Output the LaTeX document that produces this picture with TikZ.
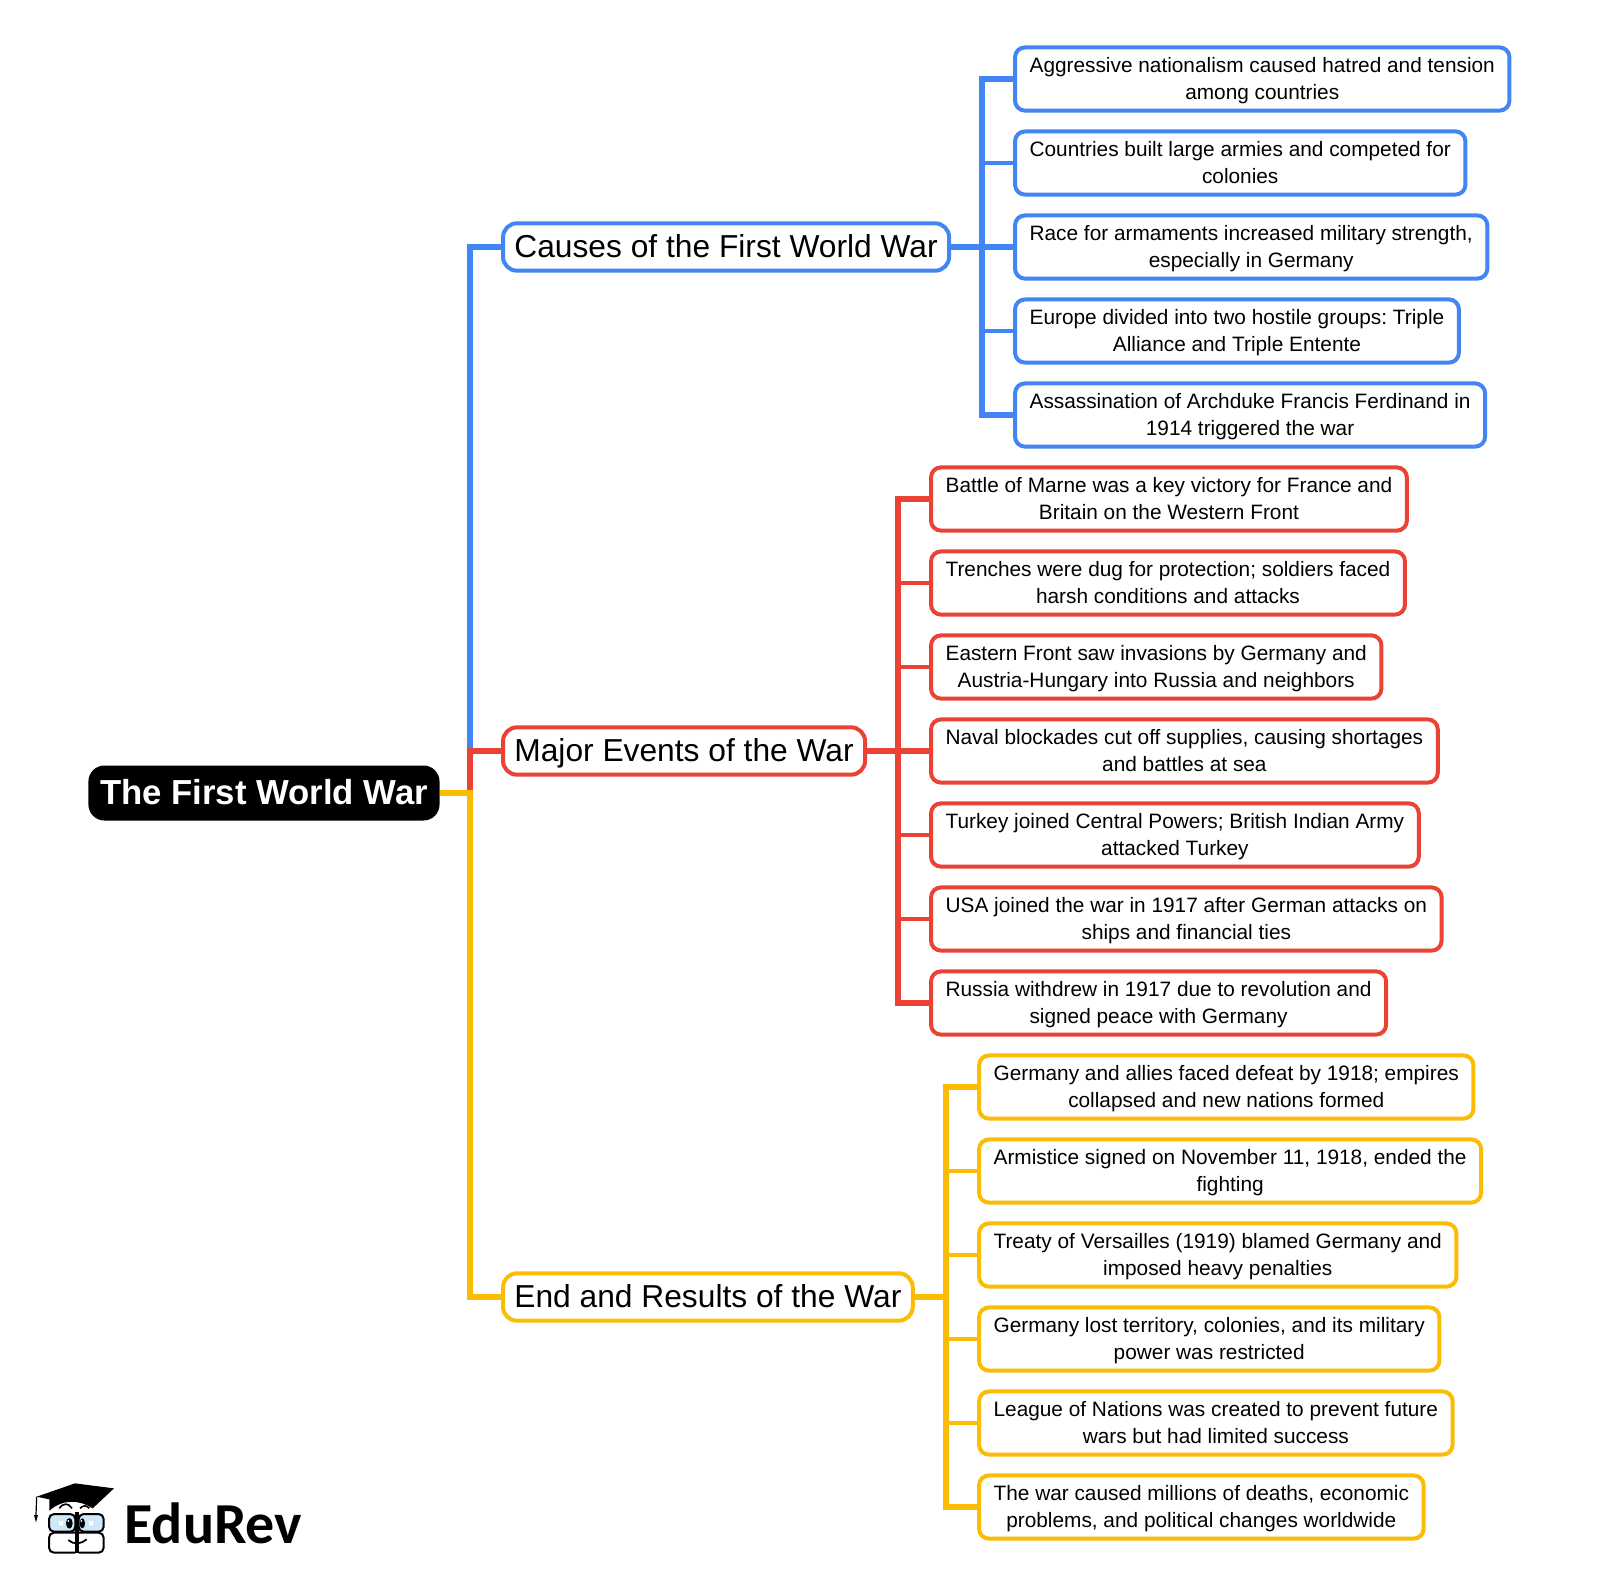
\documentclass[tikz,border=0pt]{standalone}
\usepackage{fontspec}
\setmainfont{Liberation Sans}
\newfontfamily\logofont{Carlito}
\usepackage{tikz}
\usetikzlibrary{positioning, calc}

\definecolor{blueline}{HTML}{4285F4}
\definecolor{redline}{HTML}{EA4335}
\definecolor{yellowline}{HTML}{FBBC04}
\definecolor{lensblue}{HTML}{CFE8F7}

\newcommand{\leafstrut}{\rule{0pt}{9.8pt}\rule[-3pt]{0pt}{3pt}}
\newcommand{\leaflines}[2]{\leafstrut #1\\\leafstrut #2}

\tikzset{
    rootbox/.style={fill=black, text=white, rounded corners=8pt, font=\fontsize{17.36}{20}\selectfont\bfseries,
        inner xsep=5.8pt, minimum height=27.5pt, text height=12.5pt, text depth=1.5pt, anchor=west},
    branchbox/.style={draw=#1, fill=white, line width=2pt, rounded corners=7pt, font=\fontsize{15.87}{20}\selectfont,
        inner xsep=5.7pt, minimum height=23.7pt, text height=11.2pt, text depth=1.1pt, anchor=west},
    leafbox/.style={draw=#1, fill=white, line width=2pt, rounded corners=5pt, align=center, inner ysep=0pt,
        font=\fontsize{10.41}{13.6}\selectfont, inner xsep=7.3pt, minimum height=31.6pt, anchor=west},
    busline/.style={draw=#1, line width=2.6pt},
    stubline/.style={draw=#1, line width=2pt}
}

\begin{document}
\frenchspacing
\begin{tikzpicture}[x=0.5pt, y=-0.5pt]
    \useasboundingbox (0,-1) rectangle (1600,1585);

    % centre
    \node[rootbox] (root) at (88,792) {The First World War};
    \coordinate (trunk) at (470,792);

    % branches
    \node[branchbox=blueline] (causes) at (501,246) {Causes of the First World War};
    \node[branchbox=redline] (events) at (501,750) {Major Events of the War};
    \node[branchbox=yellowline] (results) at (501,1296) {End and Results of the War};

    % causes
    \node[leafbox=blueline] (causeA) at (1013,78) {\leaflines{Aggressive nationalism caused hatred and tension}{among countries}};
    \node[leafbox=blueline] (causeB) at (1013,162) {\leaflines{Countries built large armies and competed for}{colonies}};
    \node[leafbox=blueline] (causeC) at (1013,246) {\leaflines{Race for armaments increased military strength,}{especially in Germany}};
    \node[leafbox=blueline] (causeD) at (1013,330) {\leaflines{Europe divided into two hostile groups: Triple}{Alliance and Triple Entente}};
    \node[leafbox=blueline] (causeE) at (1013,414) {\leaflines{Assassination of Archduke Francis Ferdinand in}{1914 triggered the war}};

    % events
    \node[leafbox=redline] (eventA) at (929,498) {\leaflines{Battle of Marne was a key victory for France and}{Britain on the Western Front}};
    \node[leafbox=redline] (eventB) at (929,582) {\leaflines{Trenches were dug for protection; soldiers faced}{harsh conditions and attacks}};
    \node[leafbox=redline] (eventC) at (929,666) {\leaflines{Eastern Front saw invasions by Germany and}{Austria-Hungary into Russia and neighbors}};
    \node[leafbox=redline] (eventD) at (929,750) {\leaflines{Naval blockades cut off supplies, causing shortages}{and battles at sea}};
    \node[leafbox=redline] (eventE) at (929,834) {\leaflines{Turkey joined Central Powers; British Indian Army}{attacked Turkey}};
    \node[leafbox=redline] (eventF) at (929,918) {\leaflines{USA joined the war in 1917 after German attacks on}{ships and financial ties}};
    \node[leafbox=redline] (eventG) at (929,1002) {\leaflines{Russia withdrew in 1917 due to revolution and}{signed peace with Germany}};

    % results
    \node[leafbox=yellowline] (resultA) at (977,1086) {\leaflines{Germany and allies faced defeat by 1918; empires}{collapsed and new nations formed}};
    \node[leafbox=yellowline] (resultB) at (977,1170) {\leaflines{Armistice signed on November 11, 1918, ended the}{fighting}};
    \node[leafbox=yellowline] (resultC) at (977,1254) {\leaflines{Treaty of Versailles (1919) blamed Germany and}{imposed heavy penalties}};
    \node[leafbox=yellowline] (resultD) at (977,1338) {\leaflines{Germany lost territory, colonies, and its military}{power was restricted}};
    \node[leafbox=yellowline] (resultE) at (977,1422) {\leaflines{League of Nations was created to prevent future}{wars but had limited success}};
    \node[leafbox=yellowline] (resultF) at (977,1506) {\leaflines{The war caused millions of deaths, economic}{problems, and political changes worldwide}};

    % trunk
    \draw[busline=blueline] (trunk) |- (causes.west);
    \draw[busline=redline] (trunk) |- (events.west);
    \draw[busline=yellowline] (root.east) -- (trunk) |- (results.west);

    % causes bus
    \coordinate (busC) at (982,246);
    \draw[busline=blueline] (causeA.west) -| (busC) |- (causeE.west);
    \draw[stubline=blueline] (busC |- causeB.west) -- (causeB.west);
    \draw[busline=blueline] (causes.east) -- (causeC.west);
    \draw[stubline=blueline] (busC |- causeD.west) -- (causeD.west);

    % events bus
    \coordinate (busE) at (898,750);
    \draw[busline=redline] (eventA.west) -| (busE) |- (eventG.west);
    \draw[stubline=redline] (busE |- eventB.west) -- (eventB.west);
    \draw[stubline=redline] (busE |- eventC.west) -- (eventC.west);
    \draw[busline=redline] (events.east) -- (eventD.west);
    \draw[stubline=redline] (busE |- eventE.west) -- (eventE.west);
    \draw[stubline=redline] (busE |- eventF.west) -- (eventF.west);

    % results bus
    \coordinate (busR) at (946,1296);
    \draw[busline=yellowline] (resultA.west) -| (busR) |- (resultF.west);
    \draw[stubline=yellowline] (busR |- resultB.west) -- (resultB.west);
    \draw[stubline=yellowline] (busR |- resultC.west) -- (resultC.west);
    \draw[stubline=yellowline] (busR |- resultD.west) -- (resultD.west);
    \draw[stubline=yellowline] (busR |- resultE.west) -- (resultE.west);
    \draw[busline=yellowline] (results.east) -- (busR);

    % logo
    \node[anchor=base west, inner sep=0pt, font=\logofont\fontsize{29}{30}\selectfont\bfseries] (logotext) at (124,1542) {EduRev};
    \begin{scope}[shift={(0,1439)}, x=0.16667pt, y=-0.16667pt, line width=1pt, rounded corners=2.5pt]
        \fill[rounded corners=0pt] (110,170) -- (225,130) -- (342,145) -- (278,205) .. controls (240,180) and (190,175) .. (148,212) -- (148,178) -- cycle;
        \draw[line width=0.6pt, rounded corners=0pt] (110,170) -- (108,225);
        \fill[rounded corners=0pt] (102,225) -- (114,225) -- (108,247) -- cycle;
        \draw[fill=lensblue] (147,222) rectangle (226,275);
        \draw[fill=lensblue] (236,222) rectangle (311,275);
        \draw (226,278) -- (147,278) -- (147,338) -- (226,338);
        \draw (236,278) -- (311,278) -- (311,338) -- (236,338);
        \draw[rounded corners=0pt, line width=1.6pt] (231,215) -- (231,340);
        \fill (208,250) ellipse [x radius=10, y radius=16];
        \fill (247,250) ellipse [x radius=8, y radius=15];
        \fill[white] (205,243) circle [radius=3];
        \fill[white] (244,243) circle [radius=3];
        \fill[white] (177,244) rectangle (189,256);
        \fill[white] (267,244) rectangle (279,256);
        \draw[rounded corners=0pt, line width=0.9pt] (205,300) .. controls (220,315) and (245,312) .. (260,298);
        \draw[rounded corners=0pt, line width=0.8pt] (178,205) .. controls (190,188) and (205,188) .. (216,205);
        \draw[rounded corners=0pt, line width=0.8pt] (240,205) .. controls (250,195) and (260,195) .. (268,205);
    \end{scope}
\end{tikzpicture}
\end{document}
